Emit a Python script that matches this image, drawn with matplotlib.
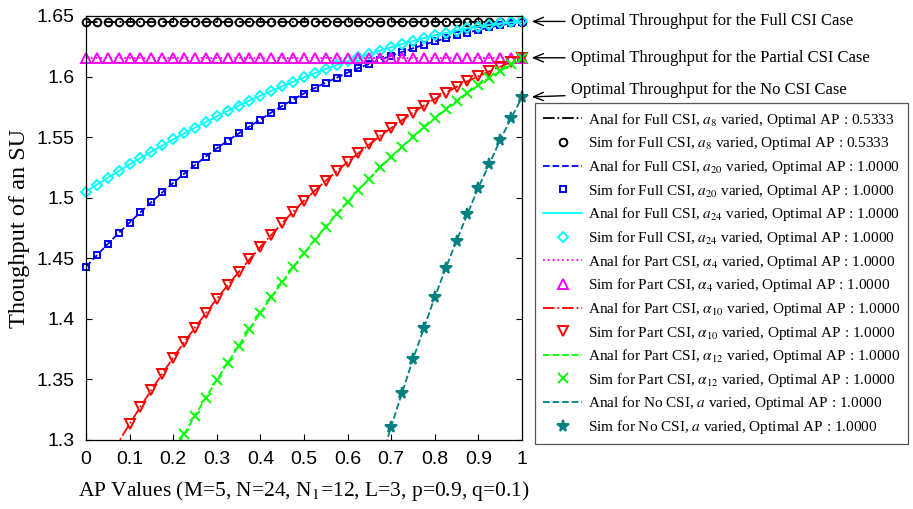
import numpy as np
import matplotlib
matplotlib.use("Agg")
import matplotlib.pyplot as plt

plt.rcParams["mathtext.fontset"] = "stix"

# AP values, 0 to 1 in steps of 0.025
ap = np.linspace(0, 1, 41)

full_a8 = [1.6453] * 41
full_a20 = [1.4430, 1.4525, 1.4618, 1.4708, 1.4795, 1.4880, 1.4963, 1.5044, 1.5122, 1.5197,
            1.5270, 1.5340, 1.5408, 1.5470, 1.5530, 1.5588, 1.5645, 1.5703, 1.5757, 1.5810,
            1.5860, 1.5905, 1.5950, 1.5990, 1.6032, 1.6070, 1.6105, 1.6140, 1.6172, 1.6203,
            1.6233, 1.6262, 1.6290, 1.6316, 1.6340, 1.6362, 1.6385, 1.6405, 1.6423, 1.6440,
            1.6453]
full_a24 = [1.5050, 1.5108, 1.5165, 1.5220, 1.5275, 1.5328, 1.5380, 1.5431, 1.5481, 1.5530,
            1.5578, 1.5625, 1.5671, 1.5716, 1.5759, 1.5801, 1.5842, 1.5882, 1.5920, 1.5957,
            1.5993, 1.6028, 1.6062, 1.6095, 1.6127, 1.6158, 1.6187, 1.6215, 1.6242, 1.6268,
            1.6293, 1.6317, 1.6339, 1.6360, 1.6379, 1.6397, 1.6413, 1.6427, 1.6439, 1.6448,
            1.6455]
part_al4 = [1.6155] * 41
part_al10 = [1.2480, 1.2650, 1.2820, 1.2985, 1.3132, 1.3275, 1.3412, 1.3548, 1.3680, 1.3805,
             1.3927, 1.4048, 1.4165, 1.4278, 1.4385, 1.4490, 1.4595, 1.4692, 1.4790, 1.4885,
             1.4975, 1.5058, 1.5140, 1.5218, 1.5295, 1.5368, 1.5440, 1.5510, 1.5575, 1.5640,
             1.5702, 1.5760, 1.5815, 1.5866, 1.5915, 1.5960, 1.6002, 1.6042, 1.6082, 1.6118,
             1.6155]
part_al12 = [1.1500, 1.1680, 1.1860, 1.2040, 1.2210, 1.2380, 1.2560, 1.2730, 1.2895, 1.3047,
             1.3200, 1.3350, 1.3495, 1.3638, 1.3775, 1.3915, 1.4050, 1.4180, 1.4302, 1.4425,
             1.4541, 1.4652, 1.4761, 1.4866, 1.4967, 1.5064, 1.5157, 1.5250, 1.5337, 1.5421,
             1.5502, 1.5580, 1.5655, 1.5729, 1.5800, 1.5867, 1.5930, 1.5988, 1.6044, 1.6100,
             1.6155]
no_csi = [0.148, 0.203, 0.257, 0.310, 0.362, 0.413, 0.463, 0.512, 0.560, 0.607,
          0.653, 0.698, 0.742, 0.785, 0.827, 0.868, 0.908, 0.947, 0.985, 1.022,
          1.058, 1.093, 1.127, 1.160, 1.192, 1.223, 1.253, 1.282, 1.3110, 1.3390,
          1.3666, 1.3922, 1.4180, 1.4417, 1.4645, 1.4866, 1.5083, 1.5278, 1.5476, 1.5655,
          1.5829]

series = [
    (full_a8, "#000000", "-.", "o", 5.5, r"Full CSI, $a_8$ varied, Optimal AP : 0.5333"),
    (full_a20, "#0000ff", "--", "s", 5.0, r"Full CSI, $a_{20}$ varied, Optimal AP : 1.0000"),
    (full_a24, "#00ffff", "-", "D", 5.5, r"Full CSI, $a_{24}$ varied, Optimal AP : 1.0000"),
    (part_al4, "#ff00ff", ":", "^", 6.5, r"Part CSI, $\alpha_4$ varied, Optimal AP : 1.0000"),
    (part_al10, "#ff0000", "-.", "v", 6.5, r"Part CSI, $\alpha_{10}$ varied, Optimal AP : 1.0000"),
    (part_al12, "#00ff00", "--", "x", 6.5, r"Part CSI, $\alpha_{12}$ varied, Optimal AP : 1.0000"),
    (no_csi, "#008080", "--", "*", 8.5, r"No CSI, $a$ varied, Optimal AP : 1.0000"),
]

fig = plt.figure(figsize=(9.13, 5.09), dpi=100)
ax = fig.add_axes([0.0942, 0.1356, 0.4775, 0.833])

ymin, ymax = 1.3, 1.65
for y, col, ls, mk, ms, lab in series:
    y = np.array(y)
    ax.plot(ap, y, color=col, linestyle=ls, linewidth=1.3, label="Anal for " + lab)
    keep = y >= ymin
    face = col if mk == "*" else "none"
    ax.plot(ap[keep], y[keep], linestyle="none", marker=mk, markersize=ms,
            markeredgecolor=col, markerfacecolor=face, markeredgewidth=1.4,
            clip_on=False, label="Sim for " + lab)

ax.set_xlim(0, 1)
ax.set_ylim(ymin, ymax)
ax.set_xticks(np.arange(0, 1.01, 0.1))
ax.set_xticklabels(["0", "0.1", "0.2", "0.3", "0.4", "0.5", "0.6", "0.7", "0.8", "0.9", "1"])
ax.set_yticks([1.3, 1.35, 1.4, 1.45, 1.5, 1.55, 1.6, 1.65])
ax.set_yticklabels(["1.3", "1.35", "1.4", "1.45", "1.5", "1.55", "1.6", "1.65"])
ax.tick_params(direction="in", top=True, right=True, length=4, width=0.8,
               labelsize=14, pad=8)
for lbl in ax.get_xticklabels() + ax.get_yticklabels():
    lbl.set_fontfamily("Liberation Sans")
for s in ax.spines.values():
    s.set_linewidth(0.9)

serif = "Liberation Serif"
ax.set_xlabel("AP Values (M=5, N=24, N$_1$=12, L=3, p=0.9, q=0.1)",
              fontfamily=serif, fontsize=15.5, labelpad=8)
ax.set_ylabel("Thoughput of an SU", fontfamily=serif, fontsize=17.5, labelpad=5)

notes = [("Optimal Throughput for the Full CSI Case", full_a24[-1], 0),
         ("Optimal Throughput for the Partial CSI Case", part_al10[-1], 0),
         ("Optimal Throughput for the No CSI Case", no_csi[-1], 5)]
for txt, yv, dy in notes:
    ax.annotate(txt, xy=(1, yv), xytext=(35, dy), textcoords="offset points",
                ha="left", va="center", fontfamily=serif, fontsize=12,
                annotation_clip=False,
                arrowprops=dict(arrowstyle="->,head_length=0.6,head_width=0.25",
                                color="k", lw=1.0, shrinkA=2, shrinkB=7))

leg = ax.legend(loc="upper left", bbox_to_anchor=(0.586, 0.7976),
                bbox_transform=fig.transFigure, prop={"family": serif, "size": 11},
                frameon=True, fancybox=False, edgecolor="#555555", framealpha=1,
                borderaxespad=0, handlelength=2.6, handletextpad=0.35,
                labelspacing=0.37, borderpad=0.5)
leg.get_frame().set_linewidth(0.9)

fig.savefig("out.png", dpi=100)
